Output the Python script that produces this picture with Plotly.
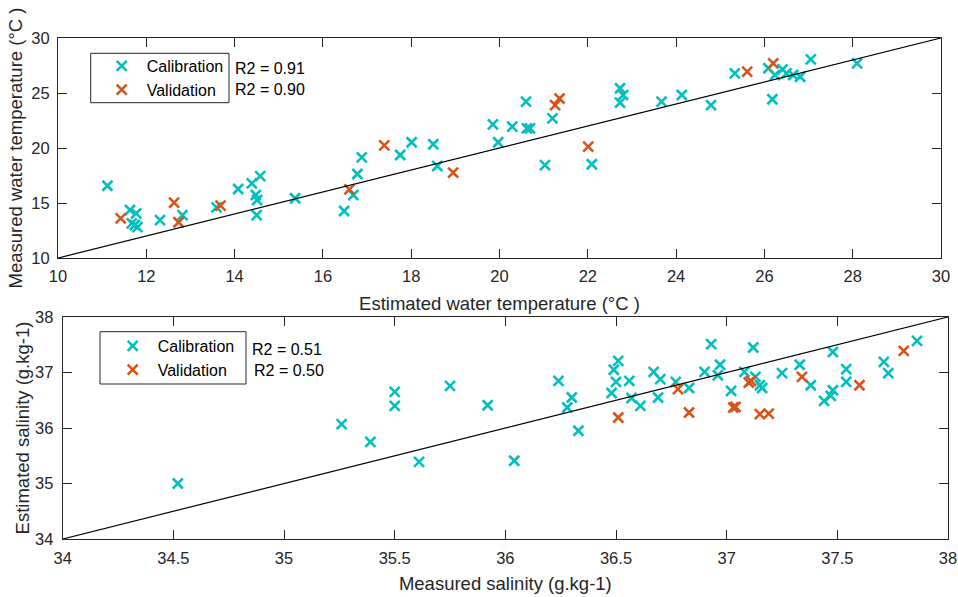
import plotly.graph_objects as go

# ---------------- data ----------------
temp_cal_est = [11.12, 11.63, 11.77, 11.67, 11.74, 11.80, 12.31, 12.82, 13.59, 14.08,
                14.39, 14.58, 14.48, 14.51, 14.50, 15.37, 16.48, 16.69, 16.78, 16.88,
                17.75, 18.01, 18.50, 18.59, 19.85, 19.97, 20.29, 20.60, 20.62, 20.69,
                21.03, 21.20, 22.09, 22.73, 22.80, 22.73, 23.67, 24.13, 24.79, 25.33,
                26.09, 26.18, 26.24, 26.41, 26.50, 26.65, 26.81, 27.05, 28.10]
temp_cal_meas = [16.57, 14.36, 14.06, 13.15, 13.00, 12.80, 13.45, 13.90, 14.60, 16.27,
                 16.79, 17.45, 15.73, 15.27, 13.90, 15.43, 14.27, 15.73, 17.64, 19.15,
                 19.36, 20.52, 20.34, 18.36, 22.15, 20.52, 21.94, 24.21, 21.79, 21.79,
                 18.45, 22.70, 18.52, 25.43, 24.82, 24.12, 24.21, 24.82, 23.90, 26.79,
                 27.25, 24.43, 26.64, 27.15, 26.79, 26.64, 26.48, 28.06, 27.70]
temp_val_est = [11.42, 12.63, 12.73, 13.68, 16.60, 17.39, 18.95, 21.26, 21.36, 22.01, 25.61, 26.20]
temp_val_meas = [13.60, 15.03, 13.25, 14.76, 16.24, 20.24, 17.76, 23.90, 24.50, 20.12, 26.94, 27.70]

sal_cal_meas = [34.52, 35.26, 35.39, 35.50, 35.50, 35.61, 35.75, 35.92, 36.04, 36.24,
                36.30, 36.28, 36.33, 36.49, 36.51, 36.48, 36.50, 36.56, 36.57, 36.61,
                36.67, 36.70, 36.69, 36.77, 36.83, 36.90, 36.93, 36.96, 36.97, 37.02,
                37.08, 37.12, 37.13, 37.15, 37.16, 37.25, 37.33, 37.38, 37.44, 37.47,
                37.48, 37.48, 37.54, 37.54, 37.71, 37.73, 37.86]
sal_cal_est = [35.00, 36.07, 35.75, 36.65, 36.40, 35.39, 36.76, 36.41, 35.41, 36.85,
               36.55, 36.37, 35.95, 37.05, 37.21, 36.63, 36.83, 36.85, 36.54, 36.40,
               37.01, 36.88, 36.55, 36.83, 36.72, 37.01, 37.51, 36.95, 37.14, 36.67,
               37.01, 37.45, 36.92, 36.77, 36.72, 36.99, 37.14, 36.77, 36.49, 36.58,
               36.68, 37.37, 37.06, 36.83, 37.19, 36.99, 37.57]
sal_val_meas = [36.51, 36.78, 36.83, 37.03, 37.04, 37.10, 37.11, 37.15, 37.19, 37.34, 37.60, 37.80]
sal_val_est = [36.19, 36.70, 36.28, 36.37, 36.38, 36.82, 36.85, 36.25, 36.26, 36.92, 36.77, 37.39]

temp_range = [10, 30]
temp_ticks = [10, 12, 14, 16, 18, 20, 22, 24, 26, 28, 30]
temp_yticks = [10, 15, 20, 25, 30]
sal_range = [34, 38]
sal_xticks = [34, 34.5, 35, 35.5, 36, 36.5, 37, 37.5, 38]
sal_xticklabels = ["34", "34.5", "35", "35.5", "36", "36.5", "37", "37.5", "38"]
sal_yticks = [34, 35, 36, 37, 38]

r2_temp = ["R2 = 0.91", "R2 = 0.90"]
r2_sal = ["R2 = 0.51", "R2 = 0.50"]

# ---------------- style ----------------
W, H = 958, 597
ML, MR, MT, MB = 58, 10, 38, 58
PW, PH = W - ML - MR, H - MT - MB
CYAN = "#00BFBF"
ORANGE = "#D95319"
AXC = "#262626"
FONT = "Liberation Sans, Arial, sans-serif"
TICK_SIZE = 16.5
TITLE_SIZE = 18.5
LEG_SIZE = 16


def px(x):
    return (x - ML) / PW


def py(y):
    return (H - MB - y) / PH


def mk(color):
    return dict(symbol="x-thin", size=10, color=color,
                line=dict(width=2.6, color=color))


fig = go.Figure()
fig.add_trace(go.Scatter(x=temp_cal_est, y=temp_cal_meas, mode="markers", name="Calibration",
                         marker=mk(CYAN), xaxis="x", yaxis="y", legend="legend"))
fig.add_trace(go.Scatter(x=temp_val_est, y=temp_val_meas, mode="markers", name="Validation",
                         marker=mk(ORANGE), xaxis="x", yaxis="y", legend="legend"))
fig.add_trace(go.Scatter(x=temp_range, y=temp_range, mode="lines", showlegend=False,
                         line=dict(color="black", width=1.2), xaxis="x", yaxis="y"))

fig.add_trace(go.Scatter(x=sal_cal_meas, y=sal_cal_est, mode="markers", name="Calibration",
                         marker=mk(CYAN), xaxis="x2", yaxis="y2", legend="legend2"))
fig.add_trace(go.Scatter(x=sal_val_meas, y=sal_val_est, mode="markers", name="Validation",
                         marker=mk(ORANGE), xaxis="x2", yaxis="y2", legend="legend2"))
fig.add_trace(go.Scatter(x=sal_range, y=sal_range, mode="lines", showlegend=False,
                         line=dict(color="black", width=1.2), xaxis="x2", yaxis="y2"))

axis_common = dict(showline=True, linecolor=AXC, linewidth=1, mirror="ticks",
                   ticks="inside", ticklen=9, tickwidth=1, tickcolor=AXC,
                   showgrid=False, zeroline=False, automargin=False,
                   tickfont=dict(family=FONT, size=TICK_SIZE, color=AXC))
title_font = dict(family=FONT, size=TITLE_SIZE, color=AXC)

fig.update_layout(
    width=W, height=H,
    margin=dict(l=ML, r=MR, t=MT, b=MB),
    paper_bgcolor="white", plot_bgcolor="white",
    font=dict(family=FONT, color=AXC),
    xaxis=dict(axis_common, domain=[px(58), px(941)], range=temp_range,
               tickvals=temp_ticks, anchor="y", ticklabelstandoff=3,
               title=dict(text="Estimated water temperature (°C )", standoff=13, font=title_font)),
    yaxis=dict(axis_common, domain=[py(258), py(38)], range=temp_range,
               tickvals=temp_yticks, anchor="x", ticklabelstandoff=4,
               title=dict(text="Measured water temperature (°C )", standoff=3, font=title_font)),
    xaxis2=dict(axis_common, domain=[px(62.7), px(948)], range=sal_range,
                tickvals=sal_xticks, ticktext=sal_xticklabels, anchor="y2", ticklabelstandoff=4,
                title=dict(text="Measured salinity (g.kg-1)", standoff=11, font=title_font)),
    yaxis2=dict(axis_common, domain=[py(539), py(317)], range=sal_range,
                tickvals=sal_yticks, anchor="x2", ticklabelstandoff=5,
                title=dict(text="Estimated salinity (g.kg-1)", standoff=0, font=title_font)),
    legend=dict(x=px(96.7), y=py(49), xanchor="left", yanchor="top",
                borderwidth=0, bgcolor="rgba(0,0,0,0)",
                font=dict(family=FONT, size=LEG_SIZE, color="black"), itemwidth=40,
                tracegroupgap=0),
    legend2=dict(x=px(107.7), y=py(329), xanchor="left", yanchor="top",
                 borderwidth=0, bgcolor="rgba(0,0,0,0)",
                 font=dict(family=FONT, size=LEG_SIZE, color="black"), itemwidth=40,
                 tracegroupgap=0),
)

# legend frames
fig.add_shape(type="rect", xref="paper", yref="paper", layer="above",
              x0=px(90.7), x1=px(229), y0=py(102.7), y1=py(53.3),
              line=dict(color=AXC, width=1), fillcolor="white")
fig.add_shape(type="rect", xref="paper", yref="paper", layer="above",
              x0=px(100), x1=px(246), y0=py(384), y1=py(331.7),
              line=dict(color=AXC, width=1), fillcolor="white")

ann = []
for i, t in enumerate(r2_temp):
    ann.append(dict(x=px(232.7), y=py(68.3 + 21 * i), xref="paper", yref="paper",
                    text=t, showarrow=False, xanchor="left", yanchor="middle",
                    font=dict(family=FONT, size=LEG_SIZE, color="black")))
for i, t in enumerate(r2_sal):
    ann.append(dict(x=px(250 + 1.5 * i), y=py(349 + 21.5 * i), xref="paper", yref="paper",
                    text=t, showarrow=False, xanchor="left", yanchor="middle",
                    font=dict(family=FONT, size=LEG_SIZE, color="black")))
fig.update_layout(annotations=ann)

fig.write_html("out.html")
